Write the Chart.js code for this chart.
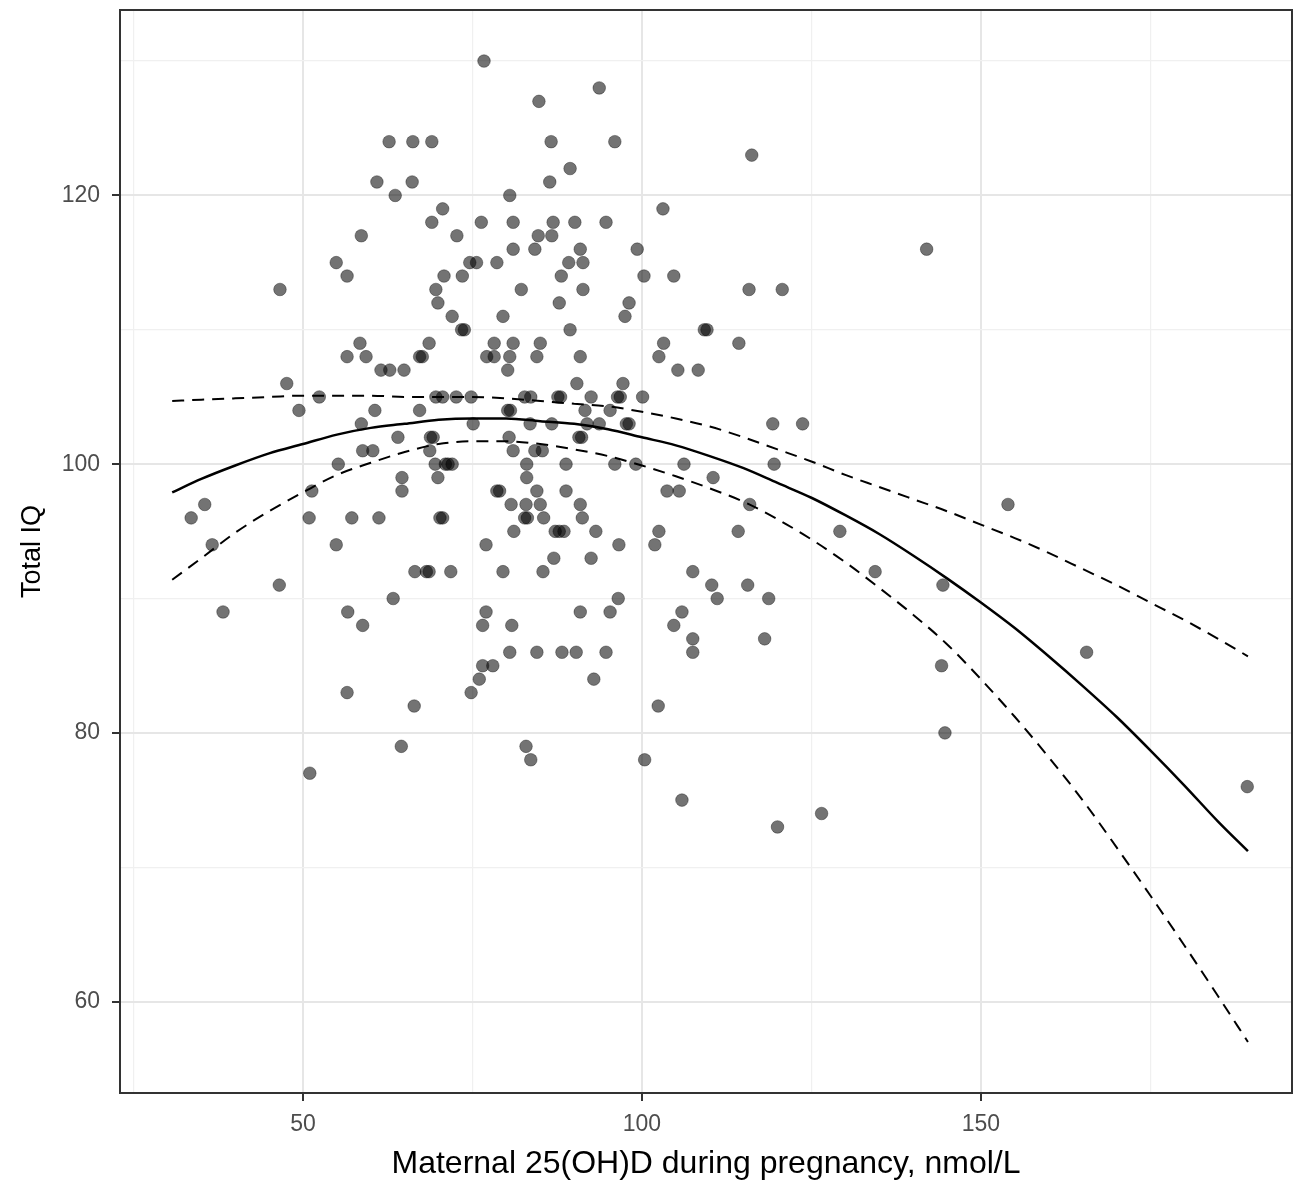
<!DOCTYPE html>
<html>
<head>
<meta charset="utf-8">
<title>Total IQ vs maternal 25(OH)D</title>
<script src="https://cdn.jsdelivr.net/npm/chart.js@4.4.1/dist/chart.umd.min.js"></script>
<style>
  html, body { margin: 0; padding: 0; background: #fff; }
  #wrap { width: 1304px; height: 1184px; position: relative; }
</style>
</head>
<body>
<div id="wrap"><canvas id="grafica"></canvas></div>
<script>
// Datos: cada punto = (25(OH)D, IQ)
const vitD = [
  76.7, 93.7, 84.8,
  62.7, 66.2, 69.0, 86.6, 96.0,
  116.2, 89.4,
  60.9, 66.1, 86.4,
  63.6, 80.5,
  70.6, 103.1,
  69.0, 76.3, 81.0, 86.9, 90.1, 94.7,
  58.6, 72.7, 84.7, 86.7,
  81.0, 84.2, 90.9, 99.3, 142.0,
  54.9, 74.6, 75.6, 78.6, 89.2, 91.3,
  56.5, 70.8, 73.5, 88.1, 100.3, 104.7,
  46.6, 69.6, 82.2, 91.3, 115.8, 120.7,
  69.9, 87.8, 98.1,
  72.0, 79.5, 97.5,
  73.4, 73.8, 89.4, 109.2, 109.6,
  58.4, 68.6, 78.2, 81.0, 85.0, 103.2, 114.3,
  56.5, 59.3, 67.2, 67.6, 77.1, 78.2, 80.5, 84.5, 90.9, 102.5,
  61.5, 62.8, 64.9, 80.2, 105.3, 108.3,
  47.6, 90.4, 97.2,
  52.4, 69.6, 70.6, 72.6, 74.8, 82.7, 83.6, 87.6, 88.0, 92.5, 96.4, 96.8, 100.1,
  49.4, 60.6, 67.2, 80.2, 80.6, 91.6, 95.3,
  58.6, 75.1, 83.5, 86.7, 91.9, 93.7, 97.7, 98.1, 119.3, 123.7,
  64.0, 68.8, 69.2, 80.4, 90.7, 91.1,
  58.8, 60.3, 68.7, 81.0, 84.2, 85.3,
  55.2, 69.5, 71.0, 71.4, 72.0, 83.0, 88.8, 96.0, 99.1, 106.2, 119.5,
  64.6, 69.9, 83.0, 110.5,
  51.3, 64.6, 78.6, 79.0, 84.5, 88.8, 103.7, 105.5,
  35.5, 80.7, 82.9, 85.0, 90.9, 115.9, 154.0,
  33.5, 50.9, 57.2, 61.2, 70.2, 70.6, 82.7, 83.1, 85.5, 91.2,
  81.1, 87.2, 87.8, 88.5, 93.2, 102.5, 114.2, 129.2,
  36.6, 54.9, 77.0, 96.6, 101.9,
  87.0, 92.5,
  66.5, 68.2, 68.6, 71.8, 79.5, 85.4, 107.5, 134.4,
  46.5, 110.3, 115.6, 144.4,
  63.3, 96.5, 111.1, 118.7,
  38.2, 56.6, 77.0, 90.9, 95.3, 105.9,
  58.8, 76.5, 80.8, 104.7,
  107.5, 118.1,
  80.5, 84.5, 88.2, 90.3, 94.7, 107.5, 165.6,
  76.5, 78.0, 144.2,
  76.0, 92.9,
  56.5, 74.8,
  66.4, 102.4,
  144.7,
  64.5, 82.9,
  83.6, 100.4,
  51.0, 189.3, 105.9, 126.5, 120.0
];
const iq = [
  130, 128, 127,
  124, 124, 124, 124, 124,
  123, 122,
  121, 121, 121,
  120, 120,
  119, 119,
  118, 118, 118, 118, 118, 118,
  117, 117, 117, 117,
  116, 116, 116, 116, 116,
  115, 115, 115, 115, 115, 115,
  114, 114, 114, 114, 114, 114,
  113, 113, 113, 113, 113, 113,
  112, 112, 112,
  111, 111, 111,
  110, 110, 110, 110, 110,
  109, 109, 109, 109, 109, 109, 109,
  108, 108, 108, 108, 108, 108, 108, 108, 108, 108,
  107, 107, 107, 107, 107, 107,
  106, 106, 106,
  105, 105, 105, 105, 105, 105, 105, 105, 105, 105, 105, 105, 105,
  104, 104, 104, 104, 104, 104, 104,
  103, 103, 103, 103, 103, 103, 103, 103, 103, 103,
  102, 102, 102, 102, 102, 102,
  101, 101, 101, 101, 101, 101,
  100, 100, 100, 100, 100, 100, 100, 100, 100, 100, 100,
  99, 99, 99, 99,
  98, 98, 98, 98, 98, 98, 98, 98,
  97, 97, 97, 97, 97, 97, 97,
  96, 96, 96, 96, 96, 96, 96, 96, 96, 96,
  95, 95, 95, 95, 95, 95, 95, 95,
  94, 94, 94, 94, 94,
  93, 93,
  92, 92, 92, 92, 92, 92, 92, 92,
  91, 91, 91, 91,
  90, 90, 90, 90,
  89, 89, 89, 89, 89, 89,
  88, 88, 88, 88,
  87, 87,
  86, 86, 86, 86, 86, 86, 86,
  85, 85, 85,
  84, 84,
  83, 83,
  82, 82,
  80,
  79, 79,
  78, 78,
  77, 76, 75, 74, 73
];

// Curva ajustada y banda de confianza (lineas)
const fitX = [30.7, 35, 40, 45, 50, 55, 60, 65, 70, 75, 80, 85, 90, 95, 100, 105, 110,
  115, 120, 125, 130, 135, 140, 145, 150, 155, 160, 165, 170, 175, 180, 185, 189.4];
const fitY = [97.9, 98.9, 99.9, 100.8, 101.5, 102.2, 102.7, 103.0, 103.3, 103.4, 103.4,
  103.2, 103.0, 102.6, 102.0, 101.4, 100.6, 99.7, 98.6, 97.5, 96.2, 94.8, 93.2, 91.5,
  89.7, 87.8, 85.7, 83.5, 81.2, 78.7, 76.1, 73.4, 71.2];
const upperY = [104.7, 104.8, 104.9, 105.0, 105.1, 105.1, 105.1, 105.0, 105.0, 105.0,
  104.9, 104.7, 104.5, 104.3, 103.9, 103.4, 102.8, 102.0, 101.1, 100.2, 99.2, 98.3, 97.4,
  96.5, 95.5, 94.5, 93.4, 92.2, 91.0, 89.7, 88.4, 87.0, 85.7];
const lowerY = [91.4, 93.0, 94.9, 96.5, 97.9, 99.2, 100.1, 100.9, 101.5, 101.7, 101.7,
  101.5, 101.1, 100.6, 99.9, 99.1, 98.2, 97.2, 95.9, 94.4, 92.7, 90.8, 88.8, 86.6, 84.0,
  81.2, 78.2, 75.0, 71.5, 67.9, 64.2, 60.4, 57.0];

// Marcas de los ejes (mayores con etiqueta, menores solo rejilla)
const xTicks = [25, 50, 75, 100, 125, 150, 175];
const yTicks = [60, 70, 80, 90, 100, 110, 120, 130];
const xLabels = [50, 100, 150];
const yLabels = [60, 80, 100, 120];

const toXY = (xs, ys) => xs.map((x, i) => ({ x: x, y: ys[i] }));

// Marco negro alrededor del panel (como theme_bw)
const marcoPanel = {
  id: 'marcoPanel',
  afterDraw(chart) {
    const { ctx, chartArea: a } = chart;
    ctx.save();
    ctx.strokeStyle = '#333333';
    ctx.lineWidth = 2;
    ctx.strokeRect(a.left, a.top, a.right - a.left, a.bottom - a.top);
    ctx.restore();
  }
};

const fuente = "'Liberation Sans', Arial, sans-serif";
const esMayorX = v => xLabels.includes(v);
const esMayorY = v => yLabels.includes(v);

const lineaBase = { showLine: true, pointRadius: 0, borderColor: '#000', fill: false,
  cubicInterpolationMode: 'monotone', order: 0 };

new Chart(document.getElementById('grafica').getContext('2d'), {
  type: 'scatter',
  data: {
    datasets: [
      Object.assign({ data: toXY(fitX, fitY), borderWidth: 2.5 }, lineaBase),
      Object.assign({ data: toXY(fitX, upperY), borderWidth: 2, borderDash: [12, 8] }, lineaBase),
      Object.assign({ data: toXY(fitX, lowerY), borderWidth: 2, borderDash: [12, 8] }, lineaBase),
      {
        data: toXY(vitD, iq),
        pointRadius: 6.3,
        pointBackgroundColor: 'rgba(0,0,0,0.55)',
        pointBorderColor: 'rgba(0,0,0,0.35)',
        pointBorderWidth: 1,
        order: 1
      }
    ]
  },
  options: {
    responsive: true,
    maintainAspectRatio: false,
    animation: false,
    layout: { padding: { top: 10, right: 12, left: 0, bottom: 0 } },
    plugins: { legend: { display: false }, tooltip: { enabled: false } },
    scales: {
      x: {
        type: 'linear', min: 23, max: 195.9,
        afterBuildTicks: s => { s.ticks = xTicks.map(v => ({ value: v })); },
        afterFit: s => { s.height = 91; s.paddingLeft = 0; s.paddingRight = 0; },
        border: { display: false },
        grid: {
          color: c => esMayorX(c.tick.value) ? '#e6e6e6' : '#f0f0f0',
          lineWidth: c => esMayorX(c.tick.value) ? 2 : 1.2,
          tickColor: c => esMayorX(c.tick.value) ? '#333333' : 'rgba(0,0,0,0)',
          tickLength: 8, tickWidth: 2
        },
        ticks: {
          padding: 10, color: '#4d4d4d', font: { family: fuente, size: 23 },
          callback: v => esMayorX(v) ? String(v) : ''
        },
        title: {
          display: true, text: 'Maternal 25(OH)D during pregnancy, nmol/L',
          color: '#000', font: { family: fuente, size: 32 }, padding: { top: 0, bottom: 1 }
        }
      },
      y: {
        type: 'linear', min: 53.2, max: 133.8,
        afterBuildTicks: s => { s.ticks = yTicks.map(v => ({ value: v })); },
        afterFit: s => { s.width = 120; s.paddingTop = 0; s.paddingBottom = 0; },
        border: { display: false },
        grid: {
          color: c => esMayorY(c.tick.value) ? '#e6e6e6' : '#f0f0f0',
          lineWidth: c => esMayorY(c.tick.value) ? 2 : 1.2,
          tickColor: c => esMayorY(c.tick.value) ? '#333333' : 'rgba(0,0,0,0)',
          tickLength: 8, tickWidth: 2
        },
        ticks: {
          padding: 12, color: '#4d4d4d', font: { family: fuente, size: 23 },
          callback: v => esMayorY(v) ? String(v) : ''
        },
        title: {
          display: true, text: 'Total IQ',
          color: '#000', font: { family: fuente, size: 27 }, padding: { top: 16, bottom: 0 }
        }
      }
    }
  },
  plugins: [marcoPanel]
});
</script>
</body>
</html>
